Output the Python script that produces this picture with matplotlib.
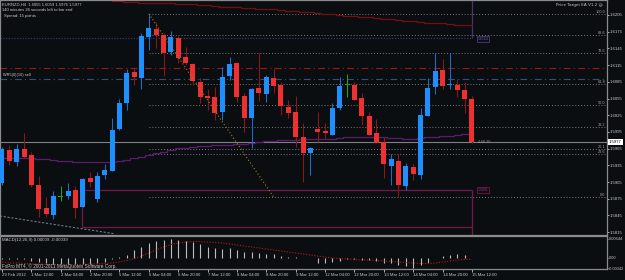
import numpy as np
import matplotlib
matplotlib.use('Agg')
import matplotlib.pyplot as plt

# ---------------- data ----------------
opens = [1.5903, 1.5962, 1.5941, 1.5964, 1.5954, 1.5900, 1.5858, 1.5846, 1.5878, 1.5880,
         1.5891, 1.5860, 1.5912, 1.5875, 1.5918, 1.5925, 1.6000, 1.6047, 1.6103, 1.6092,
         1.6165, 1.6180, 1.6169, 1.6139, 1.6164, 1.6130, 1.6117, 1.6085, 1.6060, 1.6058,
         1.6031, 1.6095, 1.6119, 1.6060, 1.6020, 1.6074, 1.6063, 1.6092, 1.6079, 1.6040,
         1.6031, 1.5986, 1.5957, 1.6000, 1.5997, 1.5990, 1.6038, 1.6079, 1.6079, 1.6056,
         1.6024, 1.5993, 1.5977, 1.5934, 1.5943, 1.5898, 1.5932, 1.5918, 1.6024, 1.6076,
         1.6106, 1.6079, 1.6079, 1.6070, 1.6055]
highs = [1.5968, 1.5972, 1.5973, 1.5993, 1.5959, 1.5916, 1.5878, 1.5889, 1.5898, 1.5903,
         1.5898, 1.5912, 1.5923, 1.5923, 1.5937, 1.6020, 1.6054, 1.6108, 1.6110, 1.6173,
         1.6207, 1.6192, 1.6173, 1.6176, 1.6167, 1.6148, 1.6119, 1.6092, 1.6072, 1.6076,
         1.6112, 1.6130, 1.6121, 1.6065, 1.6074, 1.6137, 1.6097, 1.6110, 1.6085, 1.6052,
         1.6060, 1.6011, 1.5968, 1.6031, 1.6011, 1.6047, 1.6094, 1.6099, 1.6085, 1.6065,
         1.6031, 1.6018, 1.5986, 1.5955, 1.5955, 1.5939, 1.5937, 1.6038, 1.6092, 1.6137,
         1.6126, 1.6137, 1.6090, 1.6085, 1.6059]
lows = [1.5900, 1.5936, 1.5934, 1.5948, 1.5896, 1.5842, 1.5842, 1.5839, 1.5871, 1.5875,
        1.5840, 1.5860, 1.5896, 1.5869, 1.5911, 1.5925, 1.5998, 1.6034, 1.6079, 1.6072,
        1.6142, 1.6146, 1.6095, 1.6133, 1.6119, 1.6115, 1.6079, 1.6047, 1.6034, 1.6016,
        1.6016, 1.6088, 1.6049, 1.5995, 1.5966, 1.6051, 1.6049, 1.6065, 1.6025, 1.6020,
        1.5968, 1.5905, 1.5918, 1.5977, 1.5982, 1.5990, 1.6034, 1.6058, 1.6052, 1.6007,
        1.5990, 1.5975, 1.5912, 1.5900, 1.5878, 1.5891, 1.5909, 1.5911, 1.6024, 1.6063,
        1.6072, 1.6072, 1.6058, 1.6029, 1.5976]
closes = [1.5964, 1.5943, 1.5964, 1.5950, 1.5900, 1.5857, 1.5848, 1.5880, 1.5878, 1.5889,
          1.5858, 1.5911, 1.5905, 1.5916, 1.5927, 1.5998, 1.6047, 1.6101, 1.6094, 1.6167,
          1.6182, 1.6169, 1.6137, 1.6165, 1.6128, 1.6119, 1.6087, 1.6058, 1.6056, 1.6029,
          1.6094, 1.6117, 1.6058, 1.6020, 1.6072, 1.6065, 1.6094, 1.6078, 1.6042, 1.6029,
          1.5986, 1.5957, 1.5966, 1.5995, 1.5993, 1.6038, 1.6078, 1.6079, 1.6052, 1.6024,
          1.5990, 1.5975, 1.5937, 1.5946, 1.5900, 1.5934, 1.5919, 1.6025, 1.6074, 1.6104,
          1.6078, 1.6081, 1.6070, 1.6054, 1.5977]

ma_values = [1.5948, 1.5948, 1.5948, 1.5948, 1.5948, 1.5946, 1.5946, 1.5945, 1.5943, 1.5943,
             1.5941, 1.5941, 1.5941, 1.5941, 1.5941, 1.5941, 1.5943, 1.5945, 1.5948, 1.5950,
             1.5954, 1.5957, 1.5959, 1.5962, 1.5966, 1.5966, 1.5968, 1.5970, 1.5970, 1.5972,
             1.5972, 1.5972, 1.5973, 1.5973, 1.5975, 1.5977, 1.5979, 1.5979, 1.5981, 1.5981,
             1.5981, 1.5982, 1.5982, 1.5982, 1.5982, 1.5982, 1.5984, 1.5986, 1.5986, 1.5986,
             1.5986, 1.5986, 1.5986, 1.5984, 1.5984, 1.5982, 1.5982, 1.5984, 1.5986, 1.5986,
             1.5988, 1.5988, 1.5990, 1.5991, 1.5991]

top_line_start = 15
top_line = [1.6230, 1.6230, 1.6228, 1.6228, 1.6227, 1.6227, 1.6227, 1.6227, 1.6227, 1.6225,
            1.6225, 1.6225, 1.6223, 1.6223, 1.6221, 1.6219, 1.6219, 1.6219, 1.6218, 1.6218,
            1.6216, 1.6216, 1.6216, 1.6214, 1.6212, 1.6212, 1.6210, 1.6210, 1.6209, 1.6207,
            1.6207, 1.6205, 1.6203, 1.6203, 1.6201, 1.6201, 1.6200, 1.6198, 1.6198, 1.6196,
            1.6194, 1.6194, 1.6192, 1.6191, 1.6191, 1.6191, 1.6189, 1.6187, 1.6187, 1.6187]

hist = [-0.00036, -0.00036, -0.00040, -0.00050, -0.00104, -0.00138, -0.00172, -0.00190, -0.00200, -0.00206,
        -0.00206, -0.00200, -0.00190, -0.00172, -0.00138, -0.00050, 0.00030, 0.00100, 0.00270, 0.00372,
        0.00508, 0.00576, 0.00610, 0.00644, 0.00610, 0.00576, 0.00542, 0.00474, 0.00372, 0.00338,
        0.00304, 0.00338, 0.00270, 0.00202, 0.00202, 0.00168, 0.00134, 0.00134, 0.00083, 0.00049,
        0.00032, 0.00015, 0.00005, -0.00172, -0.00172, -0.00138, -0.00104, -0.00036, -0.00036, -0.00070,
        -0.00070, -0.00104, -0.00172, -0.00172, -0.00240, -0.00290, -0.00342, -0.00250, -0.00172, -0.00005,
        0.00066, 0.00100, 0.00134, 0.00100, 0.00009]
signal = [-0.00138, -0.00172, -0.00172, -0.00189, -0.00206, -0.00206, -0.00223, -0.00223, -0.00223, -0.00223,
          -0.00223, -0.00223, -0.00206, -0.00206, -0.00189, -0.00172, -0.00138, -0.00087, -0.00019, 0.00066,
          0.00168, 0.00270, 0.00372, 0.00457, 0.00508, 0.00542, 0.00559, 0.00559, 0.00542, 0.00525,
          0.00508, 0.00474, 0.00440, 0.00406, 0.00372, 0.00338, 0.00304, 0.00270, 0.00236, 0.00202,
          0.00168, 0.00134, 0.00100, 0.00066, 0.00032, -0.00002, -0.00019, -0.00036, -0.00053, -0.00070,
          -0.00070, -0.00087, -0.00104, -0.00121, -0.00138, -0.00155, -0.00172, -0.00189, -0.00189, -0.00172,
          -0.00138, -0.00104, -0.00070, -0.00053, -0.00039]

price_ticks = [1.6205, 1.6175, 1.6145, 1.6115, 1.6085, 1.6055, 1.6025, 1.5995,
               1.5965, 1.5935, 1.5905, 1.5875, 1.5845, 1.5815]
fib_labels = ['100.0', '88.6', '78.6', '61.8', '50.0', '38.2', '26.1', '23.6', '0.0']
fib_prices = [1.6207, 1.6169, 1.6137, 1.6081, 1.6043, 1.6004, 1.5964, 1.5956, 1.5878]
fib_start = 20
red_level = 1.6110
blue_level = 1.6090
top_level = 1.6164
bid = 1.5977
box_top, box_bottom, box_left, box_right = 1.5891, 1.5824, 10.9, 64
trend_x = [20, 37]
trend_y = [1.6207, 1.5878]
gray_trend_x = [-0.3, 15.4]
gray_trend_y = [1.5844, 1.5812]

time_idx = [0, 4, 8, 12, 16, 20, 24, 28, 32, 36, 40, 44, 48, 52, 56, 60, 64]
time_labels = ['29 Feb 2012', '1 Mar 12:00', '2 Mar 04:00', '2 Mar 20:00', '5 Mar 12:00',
               '6 Mar 04:00', '6 Mar 20:00', '7 Mar 12:00', '8 Mar 04:00', '8 Mar 20:00',
               '9 Mar 12:00', '12 Mar 04:00', '12 Mar 20:00', '13 Mar 12:00', '14 Mar 04:00',
               '14 Mar 20:00', '15 Mar 12:00']
macd_ticks = [0.00644, 0.0, -0.00342]
macd_tick_labels = ['0.00644', '0.00', '-0.00342']

# ---------------- style ----------------
BG = '#0b0e11'
GRID = '#7a7a7a'
TXT = '#c8c8c8'
plt.rcParams['font.family'] = ['Liberation Sans', 'DejaVu Sans']
FS = 3.1      # axis labels
FSH = 3.0     # header texts

W, H = 625, 280
fig = plt.figure(figsize=(W / 100, H / 100), dpi=100, facecolor=BG)

def fx(x):
    return x / W

def fy(y):
    return 1 - y / H

ax = fig.add_axes([0, fy(235), fx(607), fy(0) - fy(235)], facecolor=BG)
ax2 = fig.add_axes([0, fy(269), fx(607), fy(236) - fy(269)], facecolor=BG)

x_left, x_right = -0.27, 82.4
ax.set_xlim(x_left, x_right)
ax.set_ylim(1.58099, 1.62319)
ax2.set_xlim(x_left, x_right)
ax2.set_ylim(-0.00376, 0.00746)

idx = np.arange(len(opens))
O = np.array(opens); Hh = np.array(highs); L = np.array(lows); C = np.array(closes)

body_col, wick_col = [], []
for o, c in zip(O, C):
    if abs(c - o) < 1e-6:
        body_col.append('#22a022'); wick_col.append('#22a022')
    elif c > o:
        body_col.append('#1e8fff'); wick_col.append('#1b6fcc')
    else:
        body_col.append('#ee3030'); wick_col.append('#8e1616')

ax.vlines(idx, L, Hh, colors=wick_col, lw=0.75, zorder=3)
bottoms = np.minimum(O, C)
heights = np.maximum(np.abs(C - O), 0.00012)
ax.bar(idx, heights, bottom=bottoms, width=0.68, color=body_col, linewidth=0, zorder=4)

# overlays
ax.plot(idx, ma_values, color='#5c1a70', lw=0.9, drawstyle='steps-mid', zorder=2)
tl_idx = np.arange(top_line_start, top_line_start + len(top_line))
ax.plot(tl_idx, top_line, color='#7a0c10', lw=0.9, drawstyle='steps-mid', zorder=2)
ax.axhline(red_level, color='#a01414', lw=0.8, ls=(0, (6, 3, 1, 3)), zorder=1)
ax.axhline(blue_level, color='#34507a', lw=0.8, ls=(0, (6, 3, 1, 3)), zorder=1)
ax.hlines(top_level, x_left, box_right, color='#3a3a80', lw=0.8, ls=(0, (1, 1.5)), zorder=1)
ax.vlines(box_right, top_level, 1.6232, color='#4a3070', lw=0.9, zorder=1)
for p in fib_prices:
    ax.hlines(p, fib_start, x_right, color=GRID, lw=0.7, ls=(0, (1, 2)), zorder=1)
ax.axhline(bid, color='#808080', lw=0.8, zorder=1)
ax.plot(trend_x, trend_y, color='#a08020', lw=0.8, ls=(0, (1, 2)), zorder=5)
ax.plot(gray_trend_x, gray_trend_y, color='#6a7a88', lw=0.8, ls=(0, (2, 1.5)), zorder=1)
BOXC = '#74164a'
ax.hlines([box_top, box_bottom], box_left, box_right, color=BOXC, lw=0.9, zorder=1)
ax.vlines(box_left, box_bottom, box_top, color=BOXC, lw=0.9, zorder=1)
ax.vlines(box_right, 1.5810, box_top, color=BOXC, lw=0.9, zorder=1)

# fib labels
for lab, p in zip(fib_labels, fib_prices):
    ax.text(x_right - 0.2, p, lab, color='#a0a0a0', fontsize=FSH - 0.2, ha='right', va='bottom', zorder=6)

# axes styling
for a in (ax, ax2):
    for s in a.spines.values():
        s.set_color('#8a8a8a'); s.set_linewidth(0.9)
    a.yaxis.tick_right()
    a.tick_params(axis='y', colors=TXT, labelsize=FS, length=1.5, width=0.6, pad=0.6, direction='out')
ax.set_xticks([])
ax.set_yticks(price_ticks)
ax.set_yticklabels([f'{p:.4f}' for p in price_ticks])
ax2.set_yticks(macd_ticks)
ax2.set_yticklabels(macd_tick_labels)
ax2.tick_params(axis='y', labelsize=FS - 0.3, pad=0.3, length=1)
ax2.set_xticks(time_idx)
ax2.set_xticklabels(time_labels, ha='left')
ax2.tick_params(axis='x', colors=TXT, labelsize=FS, length=2, width=0.6, pad=1.2, direction='out')

# MACD
ax2.vlines(idx, 0, hist, colors='#bdbdbd', lw=0.8, zorder=2)
ax2.plot(idx, signal, color='#c01818', lw=0.8, ls=(0, (1, 1.5)), zorder=3)

# texts
fig.text(fx(2), fy(5), 'EURNZD,H4  1.6055 1.6059 1.5976 1.5977', color=TXT, fontsize=FSH, va='center')
fig.text(fx(2), fy(10), '140 minutes 26 seconds left to bar end', color=TXT, fontsize=FSH, va='center')
fig.text(fx(4), fy(16), 'Spread: 15 points', color=TXT, fontsize=FSH, va='center')
fig.text(fx(3), fy(75), 'WR5(0)(10) sell', color=TXT, fontsize=FSH - 0.2, va='center')
fig.text(fx(603), fy(5), 'Price Target EA V1.2 \u263a', color=TXT, fontsize=FSH, va='center', ha='right',
         family=['DejaVu Sans'])
fig.text(fx(477), fy(142), '+146.20', color='#9a9a9a', fontsize=FSH - 0.2, va='center')
fig.text(fx(478), fy(39), '1.6164', color='#6a5aa0', fontsize=FSH - 0.5, va='center',
         bbox=dict(boxstyle='square,pad=0.15', fc=BG, ec='#4a3a80', lw=0.6))
fig.text(fx(478), fy(190), '1.5891', color='#a0307a', fontsize=FSH - 0.5, va='center',
         bbox=dict(boxstyle='square,pad=0.15', fc=BG, ec='#74164a', lw=0.6))
fig.text(fx(609), fy(142), '1.5977', color='black', fontsize=FS, va='center',
         bbox=dict(boxstyle='square,pad=0.2', fc='white', ec='white', lw=0))
fig.text(fx(2), fy(240), 'MACD(12,26,9) 0.00009 -0.00039', color=TXT, fontsize=FSH + 0.2, va='center')
fig.text(fx(2), fy(266), 'FxPro MT4, \u00a9 2001-2011 MetaQuotes Software Corp.', color=TXT,
         fontsize=FSH + 0.4, va='center')

fig.savefig('out.png', dpi=100, facecolor=BG)
